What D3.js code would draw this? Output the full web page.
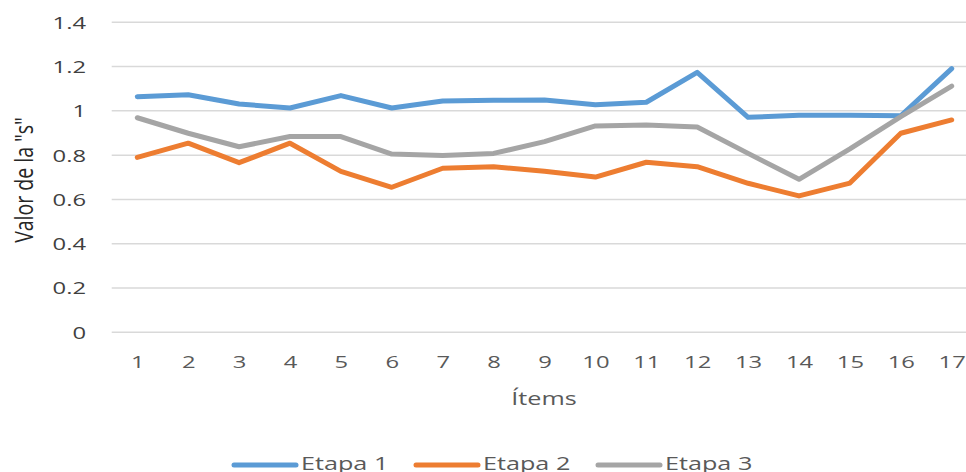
<!DOCTYPE html>
<html><head><meta charset="utf-8">
<script src="https://cdn.jsdelivr.net/npm/d3@7/dist/d3.min.js"></script>
<style>body{margin:0;background:#fff;} svg{display:block;}</style>
</head><body>
<svg id="c" width="966" height="472"></svg>
<script>
const items = ["1","2","3","4","5","6","7","8","9","10","11","12","13","14","15","16","17"];
const etapa1 = [1.064,1.073,1.031,1.013,1.069,1.013,1.045,1.048,1.049,1.028,1.039,1.174,0.971,0.980,0.980,0.978,1.191];
const etapa2 = [0.790,0.854,0.766,0.854,0.727,0.655,0.741,0.748,0.727,0.701,0.768,0.748,0.673,0.616,0.674,0.899,0.959];
const etapa3 = [0.969,0.899,0.838,0.884,0.884,0.805,0.799,0.808,0.861,0.932,0.936,0.927,0.808,0.691,0.828,0.974,1.112];
const yTicks = [0,0.2,0.4,0.6,0.8,1,1.2,1.4];
const seriesNames = ["Etapa 1","Etapa 2","Etapa 3"];
const colors = ["#5B9BD5","#ED7D31","#A5A5A5"];

const svg = d3.select("#c");
const font = "'Open Sans', 'Liberation Sans', sans-serif";
const SX = 1.4; // horizontal stretch of the reference's text
const x = d3.scalePoint().domain(items).range([137.3, 951.7]);
const y = d3.scaleLinear().domain([0,1.4]).range([332.3, 22.3]);

// gridlines
svg.append("g").selectAll("line").data(yTicks).join("line")
  .attr("x1",111.7).attr("x2",977)
  .attr("y1",d=>y(d)).attr("y2",d=>y(d))
  .attr("stroke","#D9D9D9").attr("stroke-width",1.5);

// y axis labels
const fmt = d => d===0 ? "0" : (d===1 ? "1" : d3.format(".1f")(d));
const yAxis = d3.axisLeft(y).tickValues(yTicks).tickFormat(fmt).tickSize(0).tickPadding(0);
const ya = svg.append("g").attr("transform","translate(86,0)").call(yAxis);
ya.select(".domain").remove();
ya.selectAll("text").attr("x",0).attr("font-family",font).attr("font-size",17).attr("fill","#404040")
  .attr("dy","0.35em").attr("transform",`scale(${SX},1)`);

// x axis labels
const xAxis = d3.axisBottom(x).tickSize(0).tickPadding(0);
const xa = svg.append("g").attr("transform","translate(0,367.5)").call(xAxis);
xa.select(".domain").remove();
xa.selectAll("text").attr("font-family",font).attr("font-size",17).attr("fill","#595959")
  .attr("y",0).attr("dy",0).attr("transform",`scale(${SX},1)`);

// axis titles
svg.append("text").attr("transform",`translate(544,405) scale(${SX},1)`).attr("text-anchor","middle")
  .attr("font-family",font).attr("font-size",18).attr("fill","#595959").text("Ítems");
svg.append("text").attr("transform","translate(33,180) rotate(-90) scale(1,1.3)").attr("text-anchor","middle")
  .attr("font-family",font).attr("font-size",19.5).attr("fill","#262626").text('Valor de la "s"');

// lines
const data = [etapa1, etapa2, etapa3];
const line = d3.line().x((d,i)=>x(items[i])).y(d=>y(d));
svg.append("g").selectAll("path").data(data).join("path")
  .attr("d",line).attr("fill","none")
  .attr("stroke",(d,i)=>colors[i]).attr("stroke-width",5)
  .attr("stroke-linejoin","round").attr("stroke-linecap","round");

// legend
const legX = [234, 416, 598];
const lg = svg.append("g").selectAll("g").data(seriesNames).join("g")
  .attr("transform",(d,i)=>`translate(${legX[i]},465)`);
lg.append("line").attr("x1",0).attr("x2",62).attr("y1",0).attr("y2",0)
  .attr("stroke",(d,i)=>colors[i]).attr("stroke-width",5).attr("stroke-linecap","round");
lg.append("text").attr("transform",`translate(67,5) scale(${SX},1)`).attr("font-family",font).attr("font-size",18)
  .attr("fill","#595959").text(d=>d);
</script>
</body></html>
